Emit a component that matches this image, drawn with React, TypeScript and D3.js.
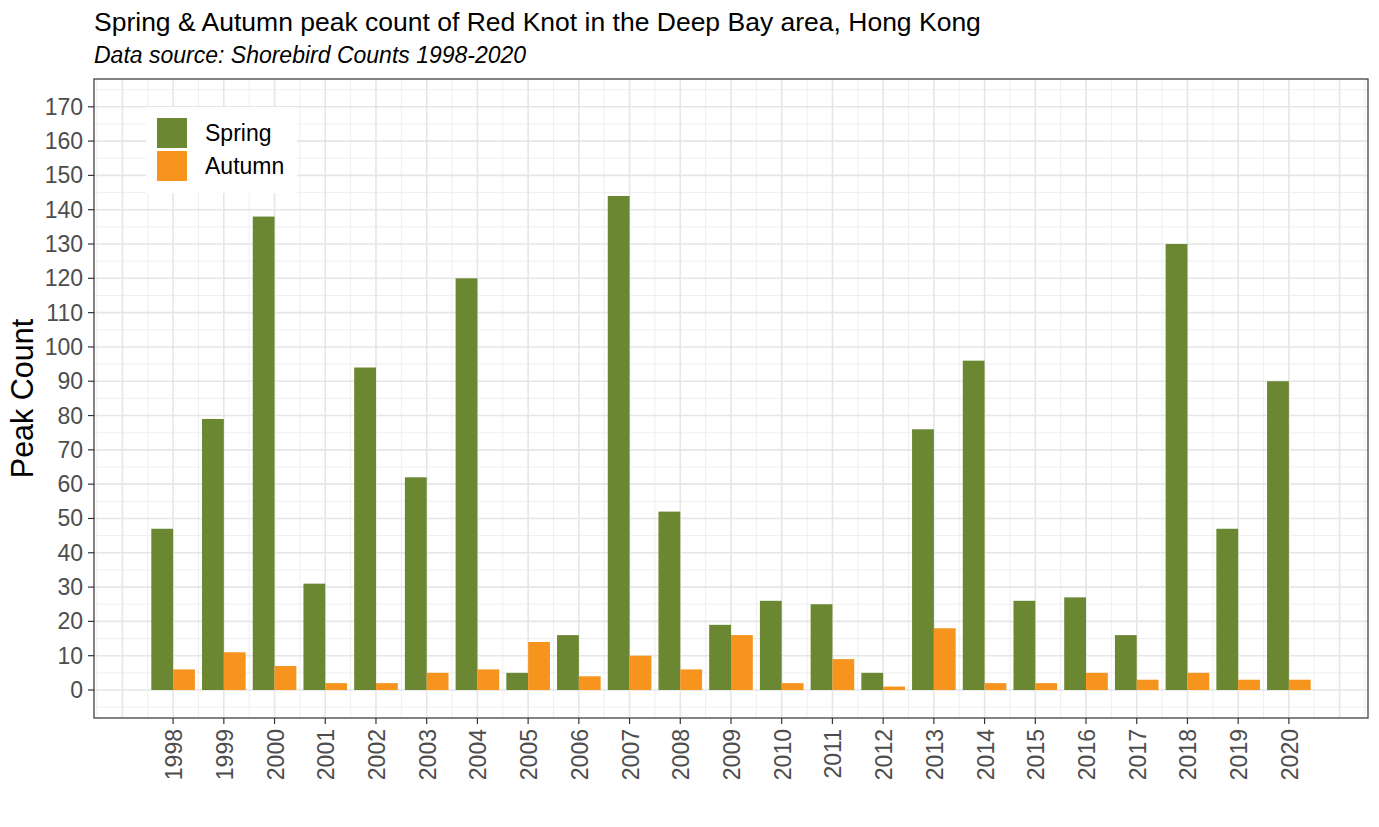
import React from "react";
import * as d3 from "d3";

const years: number[] = [1998, 1999, 2000, 2001, 2002, 2003, 2004, 2005, 2006, 2007, 2008, 2009, 2010, 2011, 2012, 2013, 2014, 2015, 2016, 2017, 2018, 2019, 2020];
const spring: number[] = [47, 79, 138, 31, 94, 62, 120, 5, 16, 144, 52, 19, 26, 25, 5, 76, 96, 26, 27, 16, 130, 47, 90];
const autumn: number[] = [6, 11, 7, 2, 2, 5, 6, 14, 4, 10, 6, 16, 2, 9, 1, 18, 2, 2, 5, 3, 5, 3, 3];
const yTicks: number[] = [0, 10, 20, 30, 40, 50, 60, 70, 80, 90, 100, 110, 120, 130, 140, 150, 160, 170];
const seriesNames: string[] = ["Spring", "Autumn"];
const seriesColors: string[] = ["#6B8731", "#F7941D"];

const W = 1379;
const H = 827;
const FONT = "Arial, 'Liberation Sans', Helvetica, sans-serif";

export default function App() {
  const left = 94, right = 1368, top = 79, bottom = 718;
  const x = d3.scaleLinear().domain([1996.44, 2021.56]).range([left, right]);
  const y = d3.scaleLinear().domain([-8.16, 178.1]).range([bottom, top]);
  const half = 0.43;

  const majorX = d3.range(1997, 2022);
  const minorX = d3.range(1996.5, 2022, 1);
  const majorY = d3.range(0, 171, 10);
  const minorY = d3.range(-5, 180, 10);

  return (
    <div style={{ position: "fixed", left: 0, top: 0 }}>
      <svg width={W} height={H} style={{ display: "block", background: "#fff" }} fontFamily={FONT}>
        <rect x={0} y={0} width={W} height={H} fill="#fff" />
        {/* grid */}
        {minorY.map((v) => (
          <line key={"my" + v} x1={left} x2={right} y1={y(v)} y2={y(v)} stroke="#EBEBEB" strokeWidth={0.8} />
        ))}
        {minorX.filter((v) => x(v) > left + 1 && x(v) < right - 1).map((v) => (
          <line key={"mx" + v} x1={x(v)} x2={x(v)} y1={top} y2={bottom} stroke="#EBEBEB" strokeWidth={0.8} />
        ))}
        {majorY.map((v) => (
          <line key={"Y" + v} x1={left} x2={right} y1={y(v)} y2={y(v)} stroke="#E6E6E6" strokeWidth={1.6} />
        ))}
        {majorX.map((v) => (
          <line key={"X" + v} x1={x(v)} x2={x(v)} y1={top} y2={bottom} stroke="#E6E6E6" strokeWidth={1.6} />
        ))}
        {/* bars */}
        {years.map((yr, i) => (
          <g key={"b" + yr}>
            <rect x={x(yr - half)} width={x(yr) - x(yr - half)} y={y(spring[i])} height={y(0) - y(spring[i])} fill={seriesColors[0]} />
            <rect x={x(yr)} width={x(yr + half) - x(yr)} y={y(autumn[i])} height={y(0) - y(autumn[i])} fill={seriesColors[1]} />
          </g>
        ))}
        {/* legend */}
        <rect x={146} y={107} width={151} height={86} fill="#fff" />
        {seriesNames.map((s, i) => (
          <g key={"l" + s}>
            <rect x={157} y={118 + i * 33} width={30} height={30} fill={seriesColors[i]} />
            <text x={205} y={133 + i * 33} dominantBaseline="central" fontSize={23} fill="#000">{s}</text>
          </g>
        ))}
        {/* panel border */}
        <rect x={left} y={top} width={right - left} height={bottom - top} fill="none" stroke="#333" strokeWidth={1.2} />
        {/* y axis ticks */}
        {yTicks.map((v) => (
          <g key={"yt" + v}>
            <line x1={left - 6} x2={left} y1={y(v)} y2={y(v)} stroke="#333" strokeWidth={1.2} />
            <text x={83} y={y(v)} textAnchor="end" dominantBaseline="central" fontSize={23} fill="#4D4D4D">{v}</text>
          </g>
        ))}
        {/* x axis ticks */}
        {years.map((yr) => (
          <g key={"xt" + yr}>
            <line x1={x(yr)} x2={x(yr)} y1={bottom} y2={bottom + 6} stroke="#333" strokeWidth={1.2} />
            <text transform={`translate(${x(yr) + 1},${bottom + 11}) rotate(-90)`} textAnchor="end" dominantBaseline="central" fontSize={23} fill="#4D4D4D">{yr}</text>
          </g>
        ))}
        {/* axis title */}
        <text transform={`translate(22,${(top + bottom) / 2}) rotate(-90)`} textAnchor="middle" dominantBaseline="central" fontSize={30.5} fill="#000">Peak Count</text>
        {/* titles */}
        <text x={94} y={31} fontSize={26.5} fill="#000">Spring &amp; Autumn peak count of Red Knot in the Deep Bay area, Hong Kong</text>
        <text x={94} y={63} fontSize={23} fontStyle="italic" fill="#000">Data source: Shorebird Counts 1998-2020</text>
      </svg>
    </div>
  );
}
